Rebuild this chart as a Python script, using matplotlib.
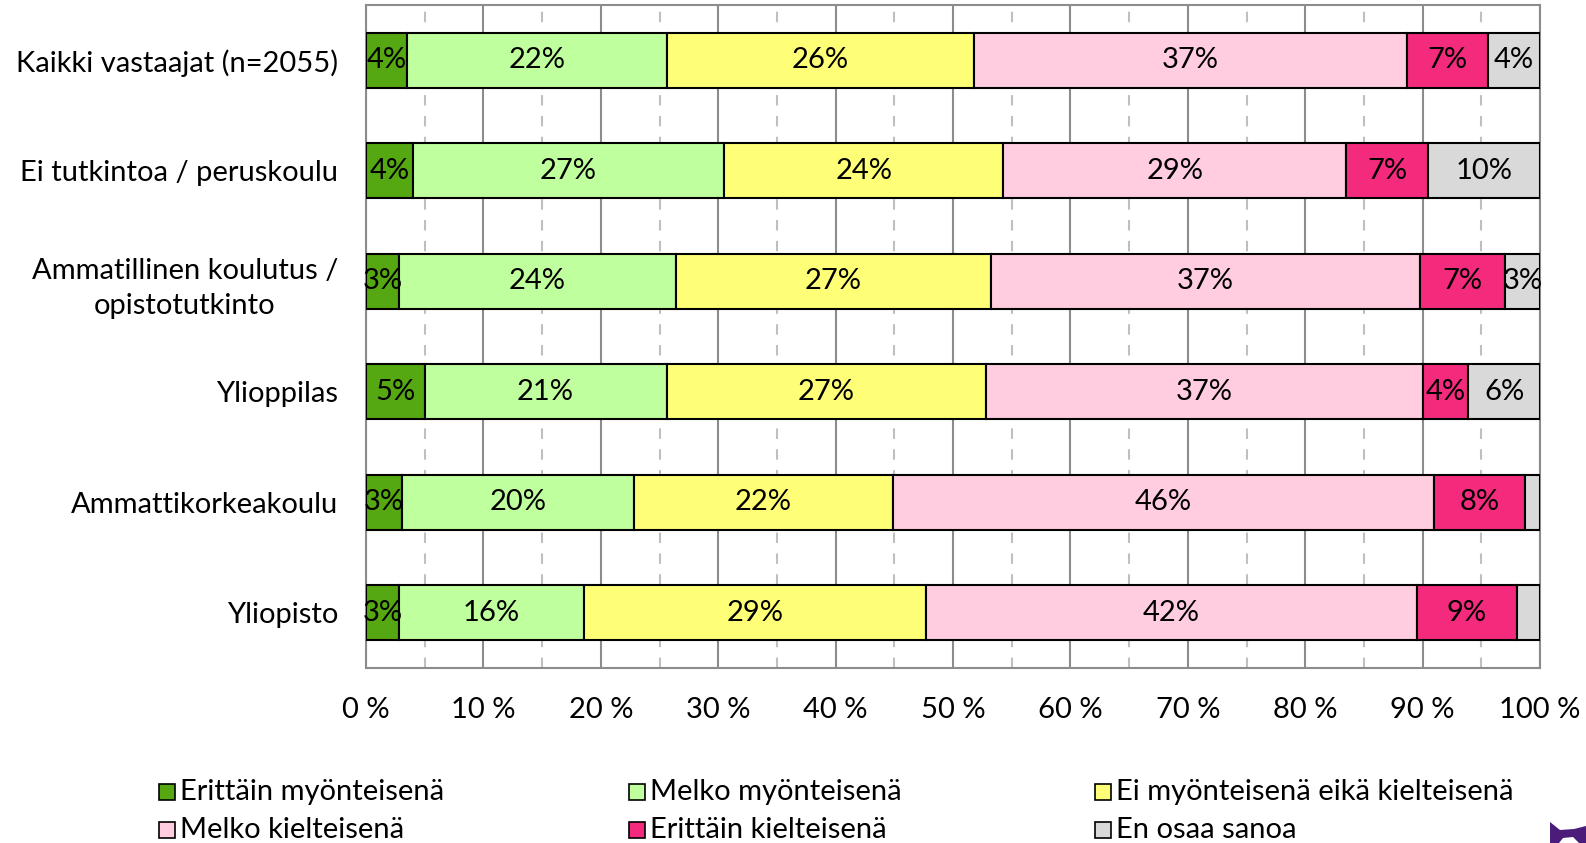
import matplotlib
matplotlib.use("Agg")
import matplotlib.pyplot as plt
from matplotlib.patches import Rectangle, Polygon
import numpy as np

plt.rcParams['font.family'] = ['Lato', 'DejaVu Sans']

categories = ["Kaikki vastaajat (n=2055)", "Ei tutkintoa / peruskoulu",
              "Ammatillinen koulutus /\nopistotutkinto", "Ylioppilas",
              "Ammattikorkeakoulu", "Yliopisto"]
series_names = ["Erittäin myönteisenä", "Melko myönteisenä",
                "Ei myönteisenä eikä kielteisenä", "Melko kielteisenä",
                "Erittäin kielteisenä", "En osaa sanoa"]
erittain_myont = [3.5, 4.0, 2.8, 5.0, 3.1, 2.8]
melko_myont = [22.1, 26.5, 23.6, 20.6, 19.7, 15.8]
ei_kumpikaan = [26.2, 23.8, 26.8, 27.2, 22.1, 29.1]
melko_kielt = [36.9, 29.2, 36.6, 37.2, 46.1, 41.8]
erittain_kielt = [6.9, 7.0, 7.2, 3.9, 7.7, 8.5]
en_osaa = [4.4, 9.5, 3.0, 6.1, 1.3, 2.0]
xtick_labels = ["0 %", "10 %", "20 %", "30 %", "40 %", "50 %", "60 %", "70 %", "80 %", "90 %", "100 %"]

series = [erittain_myont, melko_myont, ei_kumpikaan, melko_kielt, erittain_kielt, en_osaa]
colors = ['#55A811', '#C0FF9E', '#FFFF77', '#FFCCE0', '#F42A7D', '#D9D9D9']
FS = 21

W, H = 1586, 843
fig = plt.figure(figsize=(W/100, H/100), dpi=100)
ax = fig.add_axes([366/W, 1-668/H, (1540-366)/W, (668-5)/H])

y = np.arange(len(categories))
left = np.zeros(len(categories))
for vals, col, name in zip(series, colors, series_names):
    vals = np.array(vals)
    ax.barh(y, vals, left=left, height=0.5, color=col, edgecolor='black',
            linewidth=1.5, label=name, zorder=3)
    for yi, l, v in zip(y, left, vals):
        if v >= 2.5:
            ax.text(l + v/2, yi, "%d%%" % int(np.floor(v + 0.5)), ha='center', va='center',
                    fontsize=FS, color='black', zorder=4)
    left += vals

ax.set_xlim(0, 100)
ax.set_ylim(len(categories) - 0.5, -0.5)
ax.set_yticks(y)
ax.set_yticklabels(categories, fontsize=FS, multialignment='center', linespacing=1.45)
ax.set_xticks(np.arange(0, 101, 10))
ax.set_xticklabels(xtick_labels, fontsize=FS)
ax.set_xticks(np.arange(5, 100, 10), minor=True)
ax.tick_params(axis='both', which='both', length=0)
ax.tick_params(axis='x', pad=21)
ax.tick_params(axis='y', pad=20)
ax.grid(axis='x', which='major', color='#8C8C8C', linewidth=1.5, zorder=0)
ax.grid(axis='x', which='minor', color='#BFBFBF', linewidth=1.5, linestyle=(0, (5, 5)), zorder=0)
for s in ax.spines.values():
    s.set_color('#8C8C8C')
    s.set_linewidth(1.5)

# legend, row-major, 3 columns
col_x = [159, 629, 1095]
row_y = [792, 830]
sq = 16
for i, (c, n) in enumerate(zip(colors, series_names)):
    cx = col_x[i % 3]
    ry = row_y[i // 3]
    fig.patches.append(Rectangle((cx/W, 1-(ry+sq/2)/H), sq/W, sq/H, transform=fig.transFigure,
                                 facecolor=c, edgecolor='black', linewidth=1.2))
    fig.text((cx+sq+5)/W, 1-ry/H, n, fontsize=FS, ha='left', va='center')

# partial logo at bottom right
pts = [(1550, 843), (1550, 822), (1560, 830), (1574, 829), (1586, 826), (1586, 843),
       (1579, 843), (1573, 837), (1563, 838), (1559, 843)]
logo = Polygon([(px/W, 1-py/H) for px, py in pts], closed=True, transform=fig.transFigure,
               facecolor='#4B1C7A', edgecolor='none')
fig.patches.append(logo)

fig.savefig("out.png", dpi=100)
